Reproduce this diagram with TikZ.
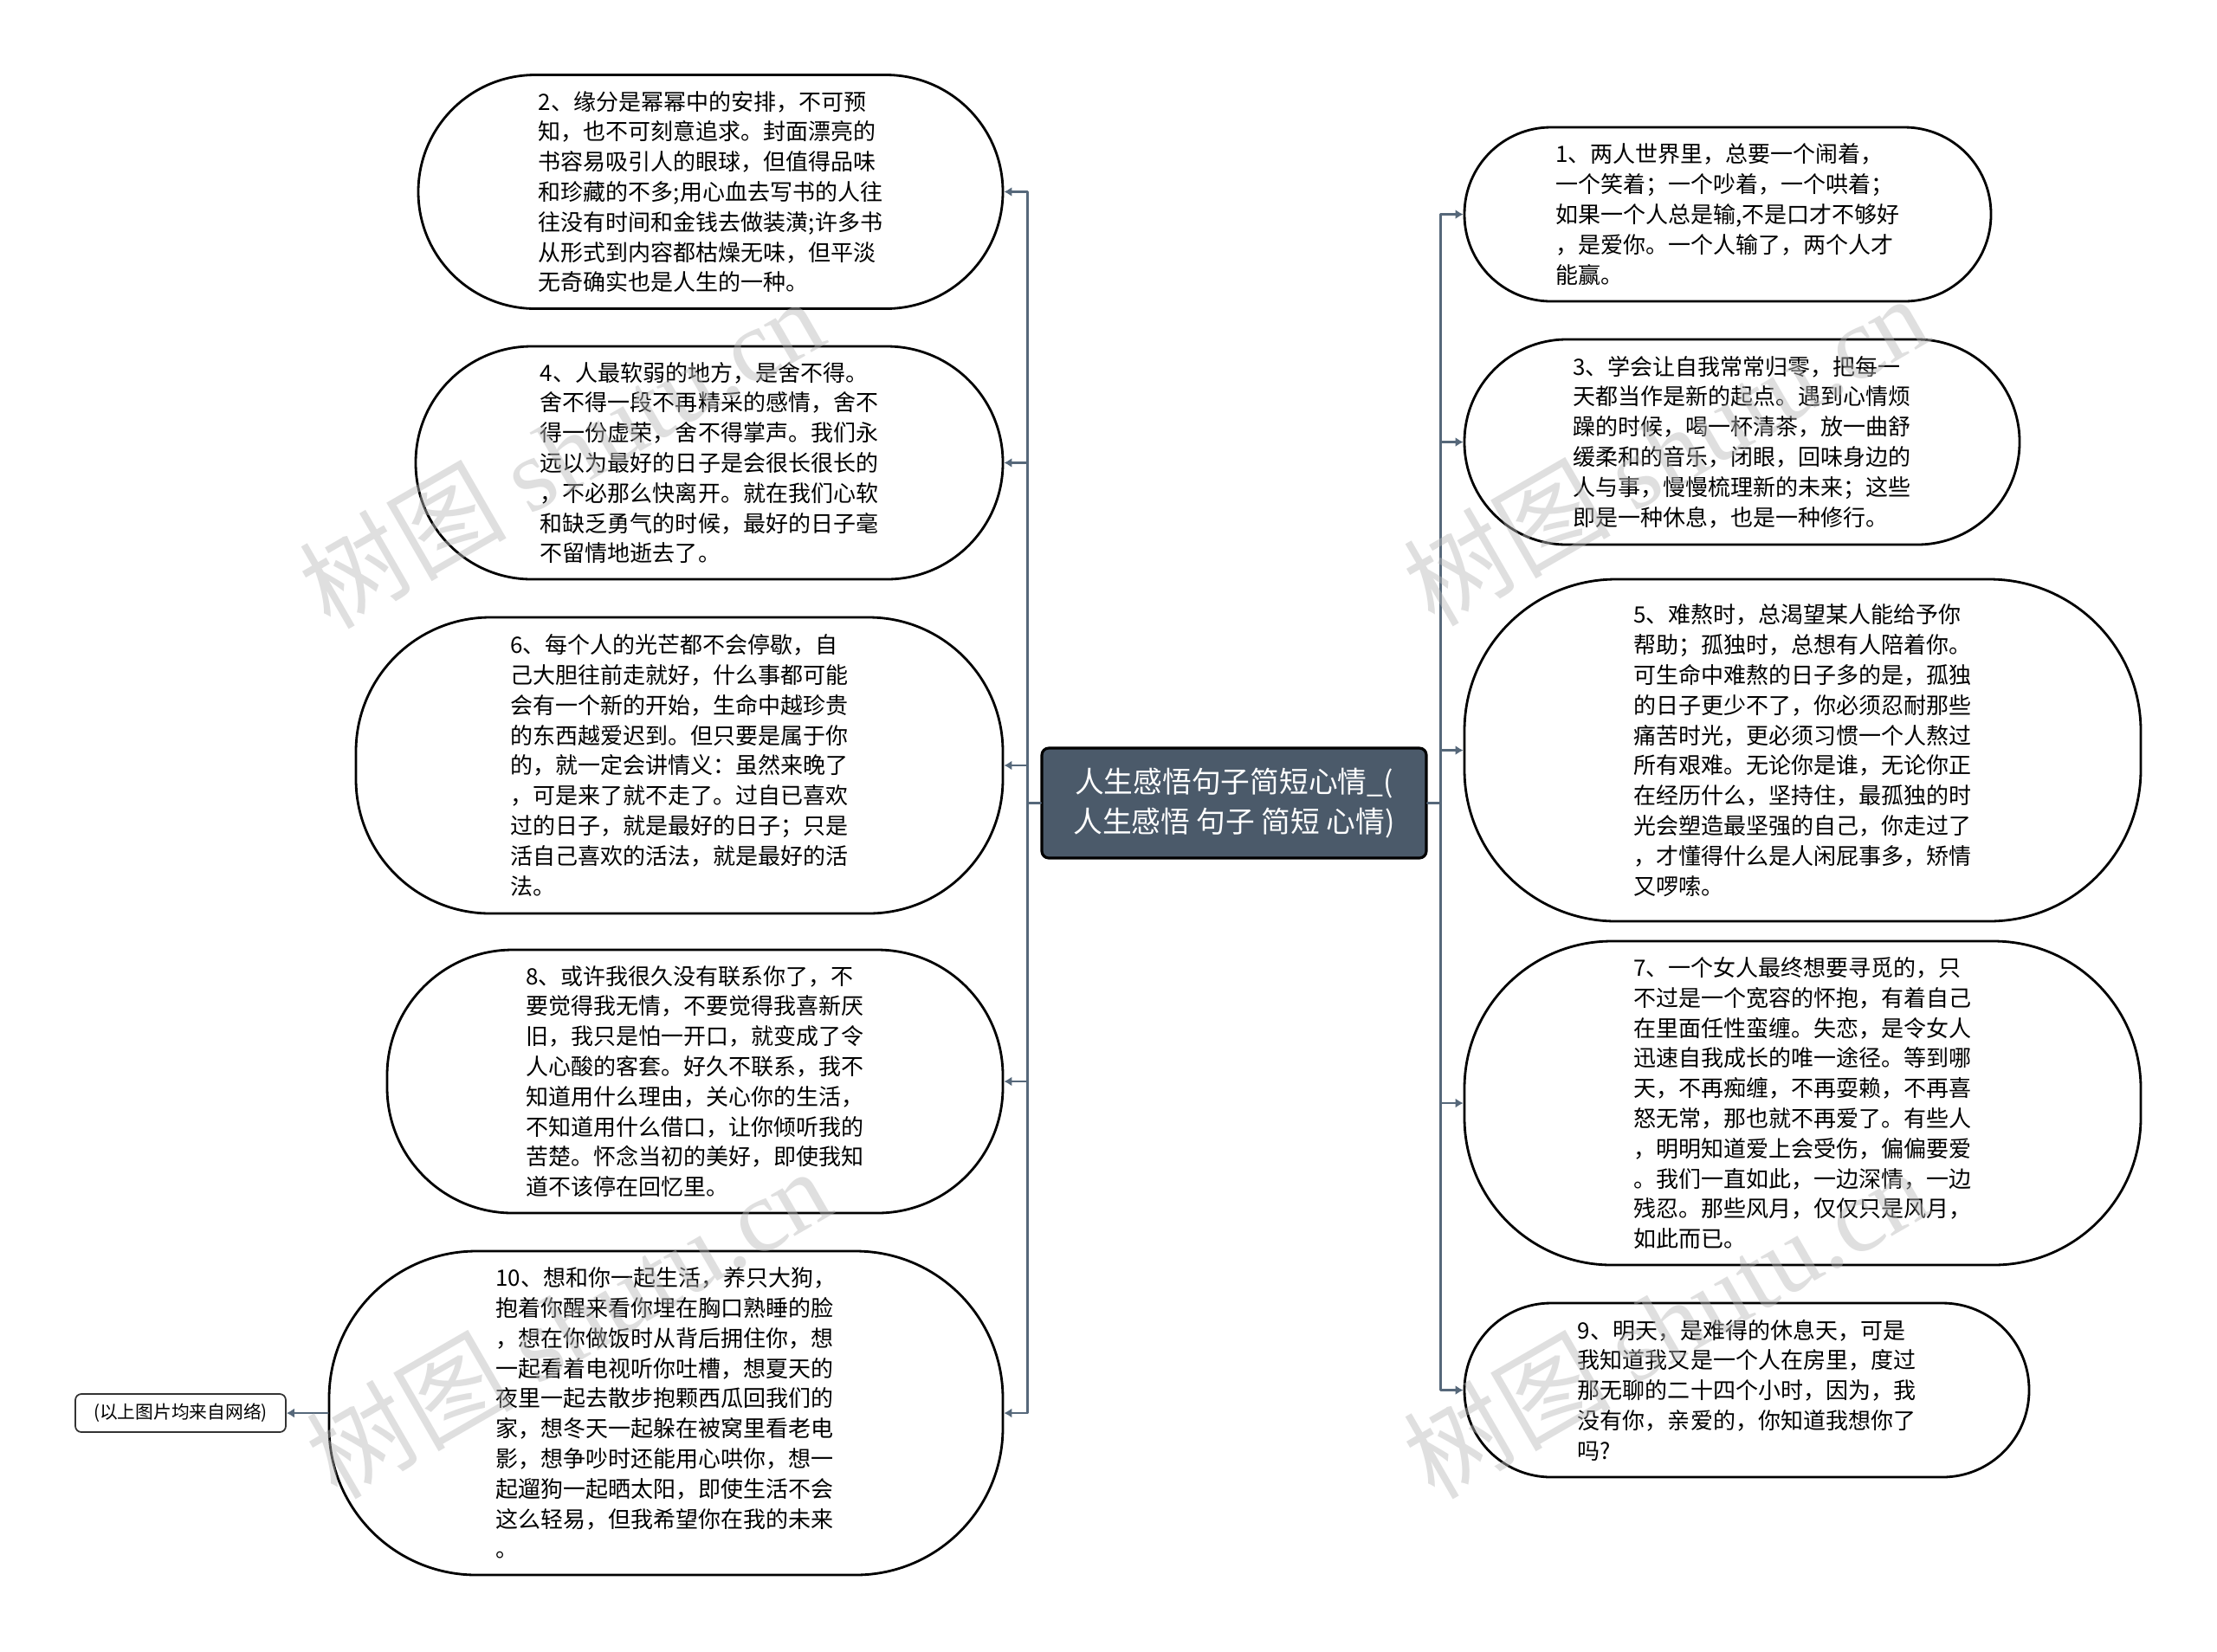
\documentclass[tikz,border=0pt]{standalone}
\usepackage{fontspec}
\newfontfamily\cjk{Noto Sans CJK SC}
\newfontfamily\wmserif{Liberation Serif}
\usetikzlibrary{arrows.meta}
\definecolor{rootgray}{HTML}{4B5A6A}
\definecolor{linkgray}{HTML}{56687A}

\begin{document}
\begin{tikzpicture}[line cap=round, line join=round,
    root/.style={draw=black, line width=0.9pt, fill=rootgray, rounded corners=0.08cm,
      text=white, align=center, inner sep=0pt, minimum width=4.44cm, minimum height=1.27cm,
      font=\cjk\fontsize{9.6}{13}\selectfont},
    leaf/.style={draw=black, line width=0.8pt, fill=white, align=left, inner sep=0pt,
      font=\cjk\fontsize{7.4}{9.9}\selectfont},
    note/.style={draw=black!80, line width=0.5pt, fill=white, rounded corners=0.07cm,
      inner sep=0pt, minimum width=2.43cm, minimum height=0.44cm,
      font=\cjk\fontsize{5.9}{7}\selectfont},
    link/.style={draw=linkgray, line width=0.7pt, -{Latex[length=0.9mm, width=1.1mm]}},
    wmark/.style={text=gray!55, opacity=0.45, rotate=30, inner sep=0pt,
      font=\fontsize{34}{34}\selectfont}]
  \useasboundingbox[fill=white] (0,0) rectangle (25.6,-19.07);
  % 中心主题
  \node[root] (root) at (14.25,-9.275) {人生感悟句子简短心情\_(\\人生感悟 句子 简短 心情)};
  % 左侧
  \node[leaf, minimum width=6.75cm, minimum height=2.70cm, rounded corners=1.35cm] (n2) at (8.205,-2.215)
    {2、缘分是幂幂中的安排，不可预\\知，也不可刻意追求。封面漂亮的\\书容易吸引人的眼球，但值得品味\\和珍藏的不多;用心血去写书的人往\\往没有时间和金钱去做装潢;许多书\\从形式到内容都枯燥无味，但平淡\\无奇确实也是人生的一种。};
  \node[leaf, minimum width=6.78cm, minimum height=2.69cm, rounded corners=1.34cm] (n4) at (8.19,-5.345)
    {4、人最软弱的地方，是舍不得。\\舍不得一段不再精采的感情，舍不\\得一份虚荣，舍不得掌声。我们永\\远以为最好的日子是会很长很长的\\，不必那么快离开。就在我们心软\\和缺乏勇气的时候，最好的日子毫\\不留情地逝去了。};
  \node[leaf, minimum width=7.47cm, minimum height=3.42cm, rounded corners=1.55cm] (n6) at (7.845,-8.84)
    {6、每个人的光芒都不会停歇，自\\己大胆往前走就好，什么事都可能\\会有一个新的开始，生命中越珍贵\\的东西越爱迟到。但只要是属于你\\的，就一定会讲情义：虽然来晚了\\，可是来了就不走了。过自已喜欢\\过的日子，就是最好的日子；只是\\活自己喜欢的活法，就是最好的活\\法。};
  \node[leaf, minimum width=7.11cm, minimum height=3.04cm, rounded corners=1.45cm] (n8) at (8.025,-12.49)
    {8、或许我很久没有联系你了，不\\要觉得我无情，不要觉得我喜新厌\\旧，我只是怕一开口，就变成了令\\人心酸的客套。好久不联系，我不\\知道用什么理由，关心你的生活，\\不知道用什么借口，让你倾听我的\\苦楚。怀念当初的美好，即使我知\\道不该停在回忆里。};
  \node[leaf, minimum width=7.78cm, minimum height=3.74cm, rounded corners=1.7cm] (n10) at (7.69,-16.32)
    {10、想和你一起生活，养只大狗，\\抱着你醒来看你埋在胸口熟睡的脸\\，想在你做饭时从背后拥住你，想\\一起看着电视听你吐槽，想夏天的\\夜里一起去散步抱颗西瓜回我们的\\家，想冬天一起躲在被窝里看老电\\影，想争吵时还能用心哄你，想一\\起遛狗一起晒太阳，即使生活不会\\这么轻易，但我希望你在我的未来\\。};
  \node[note] (src) at (2.085,-16.32) {(以上图片均来自网络)};
  % 右侧
  \node[leaf, minimum width=6.08cm, minimum height=2.01cm, rounded corners=1.0cm] (n1) at (19.95,-2.475)
    {1、两人世界里，总要一个闹着，\\一个笑着；一个吵着，一个哄着；\\如果一个人总是输,不是口才不够好\\，是爱你。一个人输了，两个人才\\能赢。};
  \node[leaf, minimum width=6.41cm, minimum height=2.37cm, rounded corners=1.18cm] (n3) at (20.115,-5.105)
    {3、学会让自我常常归零，把每一\\天都当作是新的起点。遇到心情烦\\躁的时候，喝一杯清茶，放一曲舒\\缓柔和的音乐，闭眼，回味身边的\\人与事，慢慢梳理新的未来；这些\\即是一种休息，也是一种修行。};
  \node[leaf, minimum width=7.81cm, minimum height=3.95cm, rounded corners=1.75cm] (n5) at (20.815,-8.665)
    {5、难熬时，总渴望某人能给予你\\帮助；孤独时，总想有人陪着你。\\可生命中难熬的日子多的是，孤独\\的日子更少不了，你必须忍耐那些\\痛苦时光，更必须习惯一个人熬过\\所有艰难。无论你是谁，无论你正\\在经历什么，坚持住，最孤独的时\\光会塑造最坚强的自己，你走过了\\，才懂得什么是人闲屁事多，矫情\\又啰嗦。};
  \node[leaf, minimum width=7.81cm, minimum height=3.74cm, rounded corners=1.7cm] (n7) at (20.815,-12.74)
    {7、一个女人最终想要寻觅的，只\\不过是一个宽容的怀抱，有着自己\\在里面任性蛮缠。失恋，是令女人\\迅速自我成长的唯一途径。等到哪\\天，不再痴缠，不再耍赖，不再喜\\怒无常，那也就不再爱了。有些人\\，明明知道爱上会受伤，偏偏要爱\\。我们一直如此，一边深情，一边\\残忍。那些风月，仅仅只是风月，\\如此而已。};
  \node[leaf, minimum width=6.52cm, minimum height=2.01cm, rounded corners=1.0cm] (n9) at (20.17,-16.055)
    {9、明天，是难得的休息天，可是\\我知道我又是一个人在房里，度过\\那无聊的二十四个小时，因为，我\\没有你，亲爱的，你知道我想你了\\吗?};
  % 连线
  \foreach \n in {n2,n4,n6,n8,n10}
    \draw[link] (root.west) -- ++(-0.15,0) |- (\n.east);
  \foreach \n in {n1,n3,n5,n7,n9}
    \draw[link] (root.east) -- ++(0.15,0) |- (\n.west);
  \draw[link] (n10.west) -- (src.east);
  % 水印
  \foreach \p in {(6.48,-5.22),(19.23,-5.19),(6.56,-15.27),(19.23,-15.27)}
    \node[wmark] at \p {\cjk 树图 \wmserif shutu.cn};
\end{tikzpicture}
\end{document}
